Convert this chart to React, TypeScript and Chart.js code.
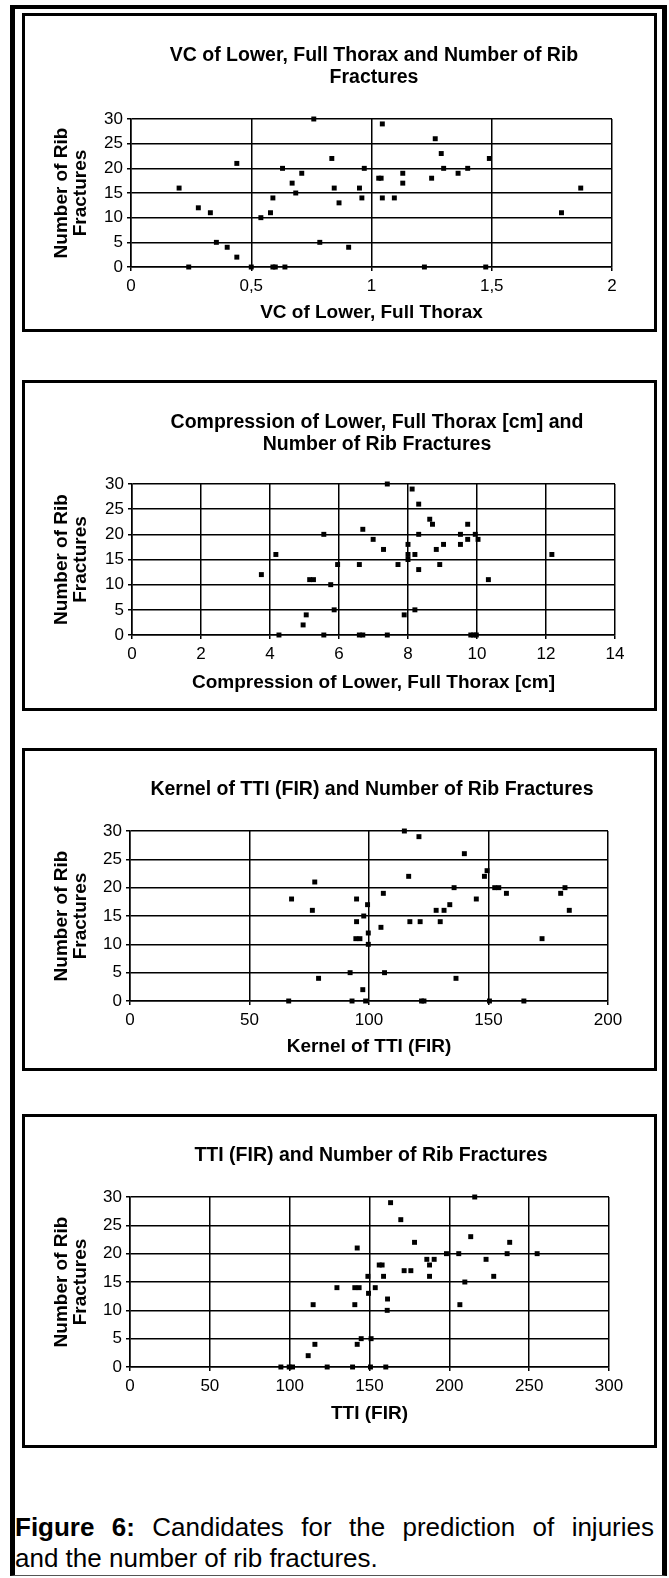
import React, { useEffect, useRef } from "react";
import { Chart, registerables } from "chart.js";

Chart.register(...registerables);

// ---------- DATA ----------
const yTickValues = [0, 5, 10, 15, 20, 25, 30];
const yTickLabels = ["0", "5", "10", "15", "20", "25", "30"];
const yAxisTitle = ["Number of Rib", "Fractures"];

// Panel 1: VC of Lower, Full Thorax
const vcTitle = ["VC of Lower, Full Thorax and Number of Rib", "Fractures"];
const vcXTitle = "VC of Lower, Full Thorax";
const vcXTickValues = [0, 0.5, 1, 1.5, 2];
const vcXTickLabels = ["0", "0,5", "1", "1,5", "2"];
const vcX = [0.2, 0.24, 0.28, 0.33, 0.355, 0.4, 0.44, 0.44, 0.5, 0.54, 0.58, 0.59, 0.59, 0.6, 0.63, 0.64, 0.67, 0.685, 0.71, 0.76, 0.785, 0.835, 0.845, 0.865, 0.905, 0.95, 0.96, 0.97, 1.03, 1.04, 1.045, 1.045, 1.095, 1.13, 1.13, 1.22, 1.25, 1.265, 1.29, 1.3, 1.36, 1.4, 1.475, 1.49, 1.79, 1.87];
const vcY = [16, 0, 12, 11, 5, 4, 2, 21, 0, 10, 11, 14, 0, 0, 20, 0, 17, 15, 19, 30, 5, 22, 16, 13, 4, 16, 14, 20, 18, 18, 29, 14, 14, 19, 17, 0, 18, 26, 23, 20, 19, 20, 0, 22, 11, 16];

// Panel 2: Compression of Lower, Full Thorax [cm]
const cmpTitle = ["Compression of Lower, Full Thorax [cm] and", "Number of Rib Fractures"];
const cmpXTitle = "Compression of Lower, Full Thorax [cm]";
const cmpXTickValues = [0, 2, 4, 6, 8, 10, 12, 14];
const cmpXTickLabels = ["0", "2", "4", "6", "8", "10", "12", "14"];
const cmpX = [3.75, 4.17, 4.26, 4.96, 5.05, 5.15, 5.26, 5.56, 5.56, 5.76, 5.86, 5.96, 6.59, 6.59, 6.69, 6.69, 6.99, 7.29, 7.4, 7.4, 7.71, 7.89, 8.0, 8.0, 8.0, 8.12, 8.2, 8.2, 8.31, 8.31, 8.31, 8.63, 8.71, 8.82, 8.92, 9.03, 9.52, 9.52, 9.73, 9.73, 9.82, 9.9, 9.98, 9.95, 10.03, 10.33, 12.17];
const cmpY = [12, 16, 0, 2, 4, 11, 11, 20, 0, 10, 5, 14, 14, 0, 0, 21, 19, 17, 30, 0, 14, 4, 18, 16, 15, 29, 16, 5, 26, 20, 13, 23, 22, 17, 14, 18, 20, 18, 22, 19, 0, 0, 0, 20, 19, 11, 16];

// Panel 3: Kernel of TTI (FIR)
const kerTitle = ["Kernel of TTI (FIR) and Number of Rib Fractures"];
const kerXTitle = "Kernel of TTI (FIR)";
const kerXTickValues = [0, 50, 100, 150, 200];
const kerXTickLabels = ["0", "50", "100", "150", "200"];
const kerX = [66.4, 67.6, 76.3, 77.3, 78.9, 92.1, 92.9, 94.8, 94.8, 94.5, 96.2, 97.8, 97.4, 98.6, 99.4, 99.7, 99.7, 105, 106, 106.5, 114.8, 116.6, 117.1, 120.9, 121.4, 122, 123, 128.1, 129.8, 131.4, 133.8, 135.6, 136.4, 139.9, 144.9, 148.3, 149.4, 150.4, 152.6, 154.3, 157.5, 164.8, 172.4, 180.2, 182, 183.8];
const kerY = [0, 18, 16, 21, 4, 5, 0, 18, 14, 11, 11, 15, 2, 0, 17, 12, 10, 13, 19, 5, 30, 22, 14, 29, 14, 0, 0, 16, 14, 16, 17, 20, 4, 26, 18, 22, 23, 0, 20, 20, 19, 0, 11, 19, 20, 16];

// Panel 4: TTI (FIR)
const ttiTitle = ["TTI (FIR) and Number of Rib Fractures"];
const ttiXTitle = "TTI (FIR)";
const ttiXTickValues = [0, 50, 100, 150, 200, 250, 300];
const ttiXTickLabels = ["0", "50", "100", "150", "200", "250", "300"];
const ttiX = [94.5, 99.7, 101.8, 111.6, 114.7, 115.8, 123.5, 129.6, 139.4, 140.8, 143.5, 140.8, 142.3, 144.8, 142.3, 149, 149.4, 150.6, 151, 153.6, 156.1, 157.9, 158.8, 160.2, 161.3, 161.1, 163.2, 169.6, 171.7, 175.9, 178.2, 185.9, 190.5, 187.6, 187.6, 198.2, 205.9, 206.6, 209.7, 213.4, 215.9, 223, 227.8, 236.2, 237.8, 255];
const ttiY = [0, 0, 0, 2, 11, 4, 0, 14, 0, 14, 14, 11, 4, 5, 21, 16, 13, 0, 5, 14, 18, 18, 16, 0, 12, 10, 29, 26, 17, 17, 22, 19, 19, 18, 16, 20, 20, 11, 15, 23, 30, 19, 16, 20, 22, 20];

const captionBold = "Figure 6:";
const captionLine1 = " Candidates for the prediction of injuries";
const captionLine2 = "and the number of rib fractures.";

// ---------- LAYOUT ----------
const FONT = '"Liberation Sans", Arial, Helvetica, sans-serif';
const BOX_L = 22;
const BOX_R = 657;
const BW = 3;

type Panel = {
  title: string[];
  xTitle: string;
  xTickValues: number[];
  xTickLabels: string[];
  xs: number[];
  ys: number[];
  boxTop: number;
  boxBottom: number;
  plot: { left: number; right: number; top: number; bottom: number };
  titleCenterX: number;
  titleFirstY: number;
  xTitleY: number;
};

const panels: Panel[] = [
  {
    title: vcTitle, xTitle: vcXTitle, xTickValues: vcXTickValues, xTickLabels: vcXTickLabels, xs: vcX, ys: vcY,
    boxTop: 13, boxBottom: 332,
    plot: { left: 131, right: 612, top: 119, bottom: 267 },
    titleCenterX: 374, titleFirstY: 54, xTitleY: 313,
  },
  {
    title: cmpTitle, xTitle: cmpXTitle, xTickValues: cmpXTickValues, xTickLabels: cmpXTickLabels, xs: cmpX, ys: cmpY,
    boxTop: 380, boxBottom: 711,
    plot: { left: 132, right: 615, top: 484, bottom: 635 },
    titleCenterX: 377, titleFirstY: 421, xTitleY: 683,
  },
  {
    title: kerTitle, xTitle: kerXTitle, xTickValues: kerXTickValues, xTickLabels: kerXTickLabels, xs: kerX, ys: kerY,
    boxTop: 748, boxBottom: 1071,
    plot: { left: 130, right: 608, top: 831, bottom: 1001 },
    titleCenterX: 372, titleFirstY: 788, xTitleY: 1047,
  },
  {
    title: ttiTitle, xTitle: ttiXTitle, xTickValues: ttiXTickValues, xTickLabels: ttiXTickLabels, xs: ttiX, ys: ttiY,
    boxTop: 1114, boxBottom: 1448,
    plot: { left: 130, right: 609, top: 1197, bottom: 1367 },
    titleCenterX: 371, titleFirstY: 1154, xTitleY: 1414,
  },
];

const TITLE_SIZE = 19.5;
const TITLE_LH = 22;
const AXIS_TITLE_SIZE = 19;
const AXIS_TITLE_LH = 19;
const TICK_SIZE = 17;

function ScatterPanel({ p }: { p: Panel }) {
  const ref = useRef<HTMLCanvasElement | null>(null);
  const cL = BOX_L + BW;
  const cR = BOX_R - BW;
  const cT = p.boxTop + BW;
  const cB = p.boxBottom - BW;
  const W = cR - cL;
  const H = cB - cT;

  useEffect(() => {
    const canvas = ref.current;
    if (!canvas) return;
    const yScaleW = p.plot.left - cL;
    const xScaleH = cB - p.plot.bottom;
    const xMin = p.xTickValues[0];
    const xMax = p.xTickValues[p.xTickValues.length - 1];
    const yTitlePadTop = 62 - cL - AXIS_TITLE_LH / 2;
    const xTitlePadBottom = cB - p.xTitleY - AXIS_TITLE_LH / 2;

    const chart = new Chart(canvas, {
      type: "scatter",
      data: {
        datasets: [
          {
            data: p.xs.map((x, i) => ({ x, y: p.ys[i] })),
            pointStyle: "rect",
            pointRadius: 3.5,
            pointHoverRadius: 3.5,
            backgroundColor: "#000",
            borderColor: "#000",
            borderWidth: 0,
            clip: false,
          } as any,
        ],
      },
      options: {
        responsive: false,
        animation: false,
        devicePixelRatio: 1,
        events: [],
        layout: {
          padding: { top: p.plot.top - cT, right: cR - p.plot.right, bottom: 0, left: 0 },
        },
        plugins: {
          legend: { display: false },
          tooltip: { enabled: false },
          title: { display: false },
        },
        scales: {
          x: {
            type: "linear",
            min: xMin,
            max: xMax,
            afterBuildTicks: (axis: any) => {
              axis.ticks = p.xTickValues.map((v) => ({ value: v }));
            },
            afterFit: (scale: any) => {
              scale.height = xScaleH;
            },
            ticks: {
              autoSkip: false,
              maxRotation: 0,
              color: "#000",
              padding: 5,
              font: { family: FONT, size: TICK_SIZE },
              callback: (value: any) => {
                const idx = p.xTickValues.indexOf(Number(value));
                return idx >= 0 ? p.xTickLabels[idx] : "";
              },
            },
            grid: { color: "#000", lineWidth: 1.5, tickLength: 4, drawTicks: true },
            border: { color: "#000", width: 1.5 },
            title: {
              display: true,
              text: p.xTitle,
              color: "#000",
              font: { family: FONT, size: AXIS_TITLE_SIZE, weight: "bold", lineHeight: AXIS_TITLE_LH + "px" },
              padding: { top: 0, bottom: xTitlePadBottom },
            },
          },
          y: {
            type: "linear",
            min: 0,
            max: 30,
            afterBuildTicks: (axis: any) => {
              axis.ticks = yTickValues.map((v) => ({ value: v }));
            },
            afterFit: (scale: any) => {
              scale.width = yScaleW;
            },
            ticks: {
              autoSkip: false,
              color: "#000",
              padding: 4,
              font: { family: FONT, size: TICK_SIZE },
              callback: (value: any) => {
                const idx = yTickValues.indexOf(Number(value));
                return idx >= 0 ? yTickLabels[idx] : "";
              },
            },
            grid: { color: "#000", lineWidth: 1.5, tickLength: 4, drawTicks: true },
            border: { color: "#000", width: 1.5 },
            title: {
              display: true,
              text: yAxisTitle,
              color: "#000",
              font: { family: FONT, size: AXIS_TITLE_SIZE, weight: "bold", lineHeight: AXIS_TITLE_LH + "px" },
              padding: { top: yTitlePadTop, bottom: 0 },
            },
          },
        },
      } as any,
    });
    return () => chart.destroy();
  }, []);

  return (
    <>
      <div
        style={{
          position: "absolute",
          left: BOX_L,
          top: p.boxTop,
          width: BOX_R - BOX_L,
          height: p.boxBottom - p.boxTop,
          border: `${BW}px solid #000`,
          boxSizing: "border-box",
        }}
      />
      <canvas
        ref={ref}
        width={W}
        height={H}
        style={{ position: "absolute", left: cL, top: cT, width: W, height: H }}
      />
      <div
        style={{
          position: "absolute",
          left: p.titleCenterX - 320,
          width: 640,
          top: p.titleFirstY - TITLE_LH / 2,
          textAlign: "center",
          fontFamily: FONT,
          fontWeight: "bold",
          fontSize: TITLE_SIZE,
          lineHeight: TITLE_LH + "px",
          color: "#000",
          whiteSpace: "nowrap",
        }}
      >
        {p.title.map((t, i) => (
          <div key={i}>{t}</div>
        ))}
      </div>
    </>
  );
}

export default function App() {
  return (
    <div
      style={{
        position: "absolute",
        left: 0,
        top: 0,
        width: 669,
        height: 1578,
        background: "#fff",
        overflow: "hidden",
        fontFamily: FONT,
      }}
    >
      <div
        style={{
          position: "absolute",
          left: 10,
          top: 5,
          width: 657,
          height: 1571,
          borderLeft: "5px solid #000",
          borderRight: "5px solid #000",
          borderTop: "4px solid #000",
          borderBottom: "1px solid #555",
          boxSizing: "border-box",
        }}
      />
      {panels.map((p, i) => (
        <ScatterPanel key={i} p={p} />
      ))}
      <div
        style={{
          position: "absolute",
          left: 15,
          top: 1512,
          width: 639,
          fontFamily: FONT,
          fontSize: 26,
          lineHeight: "31px",
          color: "#000",
        }}
      >
        <div style={{ textAlign: "justify", textAlignLast: "justify" as any }}>
          <b>{captionBold}</b>
          {captionLine1}
        </div>
        <div style={{ textAlign: "left" }}>{captionLine2}</div>
      </div>
    </div>
  );
}
